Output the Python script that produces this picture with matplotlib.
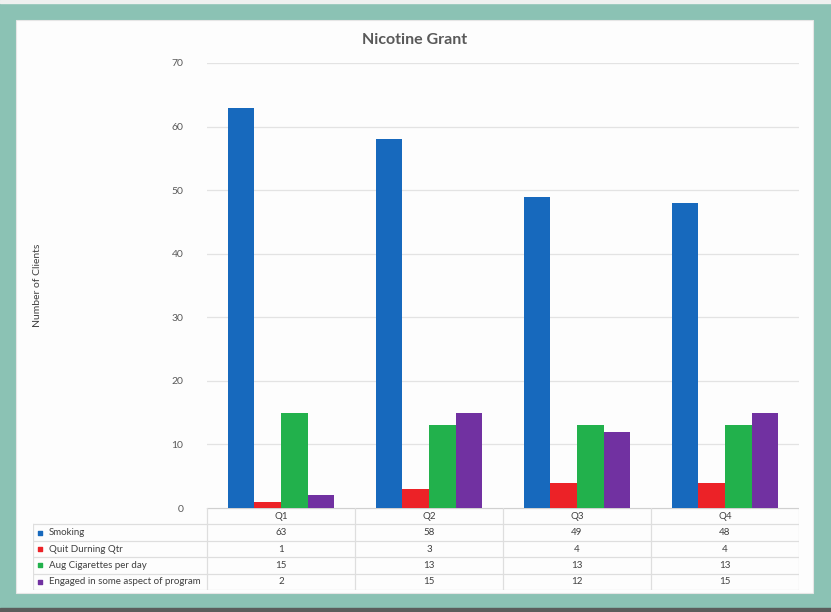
import matplotlib.pyplot as plt
from matplotlib.patches import Rectangle

plt.rcParams['font.family'] = ['Lato', 'DejaVu Sans']

# Data
quarters = ["Q1", "Q2", "Q3", "Q4"]
series_names = ["Smoking", "Quit Durning Qtr", "Aug Cigarettes per day",
                "Engaged in some aspect of program"]
smoking = [63, 58, 49, 48]
quit_qtr = [1, 3, 4, 4]
avg_cigs = [15, 13, 13, 13]
engaged = [2, 15, 12, 15]
series_values = [smoking, quit_qtr, avg_cigs, engaged]
colors = ["#1769bd", "#ec2227", "#22b14c", "#7131a1"]

W, H = 831, 612
fig = plt.figure(figsize=(W / 100, H / 100), dpi=100)
fig.patch.set_facecolor("#8bc2b4")

# frame bits: light strip on top, dark shadow at bottom, white panel
fig.add_artist(Rectangle((0, 1 - 3 / H), 1, 3 / H, transform=fig.transFigure,
                         color="#eef0ef", zorder=0))
fig.add_artist(Rectangle((0, 0), 1, 4 / H, transform=fig.transFigure,
                         color="#5b5d5c", zorder=0))
fig.add_artist(Rectangle((16 / W, (H - 593) / H), (813 - 16) / W, (593 - 20) / H,
                         transform=fig.transFigure, facecolor="#fdfdfd",
                         edgecolor="#e6e6e6", lw=0.8, zorder=0))

# plot area in pixel terms
x0, x1 = 207, 799
y_top, y_zero = 63, 508
ax = fig.add_axes([x0 / W, (H - y_zero) / H, (x1 - x0) / W, (y_zero - y_top) / H])
ax.set_facecolor("none")

n = len(series_values)
bw = 0.18
for i, (name, vals, c) in enumerate(zip(series_names, series_values, colors)):
    xs = [q + (i - (n - 1) / 2) * bw for q in range(len(quarters))]
    ax.bar(xs, vals, width=bw, color=c, zorder=3, label=name)

ax.set_xlim(-0.5, len(quarters) - 0.5)
ax.set_ylim(0, 70)
ax.set_yticks(range(0, 71, 10))
ax.yaxis.grid(True, color="#e3e3e3", lw=0.9, zorder=0)
ax.set_xticks([])
for s in ax.spines.values():
    s.set_visible(False)
ax.tick_params(axis="y", length=0, pad=17, labelsize=7.5, labelcolor="#595959")

fig.text(415 / W, 1 - 40 / H, "Nicotine Grant", ha="center", va="center",
         fontsize=11.5, fontweight="bold", color="#595959")
fig.text(38 / W, 1 - 285 / H, "Number of Clients", rotation=90, ha="center",
         va="center", fontsize=7.5, color="#404040")

# data table beneath the chart
tx0, ty1 = 33, 590
tax = fig.add_axes([tx0 / W, (H - ty1) / H, (x1 - tx0) / W, (ty1 - y_zero) / H])
tax.set_facecolor("none")
label_w = (x0 - tx0) / ((x1 - x0) / len(quarters))
left = -0.5 - label_w
tax.set_xlim(left, len(quarters) - 0.5)
tax.set_ylim(len(series_names) + 1, 0)
tax.axis("off")

line_c = "#dedede"
nrows = len(series_names) + 1
# horizontal rules
tax.plot([-0.5, len(quarters) - 0.5], [0, 0], color="#d0d0d0", lw=0.9)
for r in range(1, nrows + 1):
    tax.plot([left, len(quarters) - 0.5], [r, r], color=line_c, lw=0.9)
# vertical rules
for q in range(len(quarters) + 1):
    tax.plot([q - 0.5, q - 0.5], [0, nrows], color=line_c, lw=0.9)
tax.plot([left, left], [1, nrows], color=line_c, lw=0.9)

for q, lab in enumerate(quarters):
    tax.text(q, 0.5, lab, ha="center", va="center", fontsize=7, color="#404040")
for r, (name, vals, c) in enumerate(zip(series_names, series_values, colors), start=1):
    tax.scatter([left + 0.045], [r + 0.5], marker="s", s=12, color=c, clip_on=False)
    tax.text(left + 0.105, r + 0.5, name, ha="left", va="center", fontsize=7,
             color="#404040")
    for q, v in enumerate(vals):
        tax.text(q, r + 0.5, str(v), ha="center", va="center", fontsize=7,
                 color="#404040")

fig.savefig("out.png", dpi=100, facecolor=fig.get_facecolor())
